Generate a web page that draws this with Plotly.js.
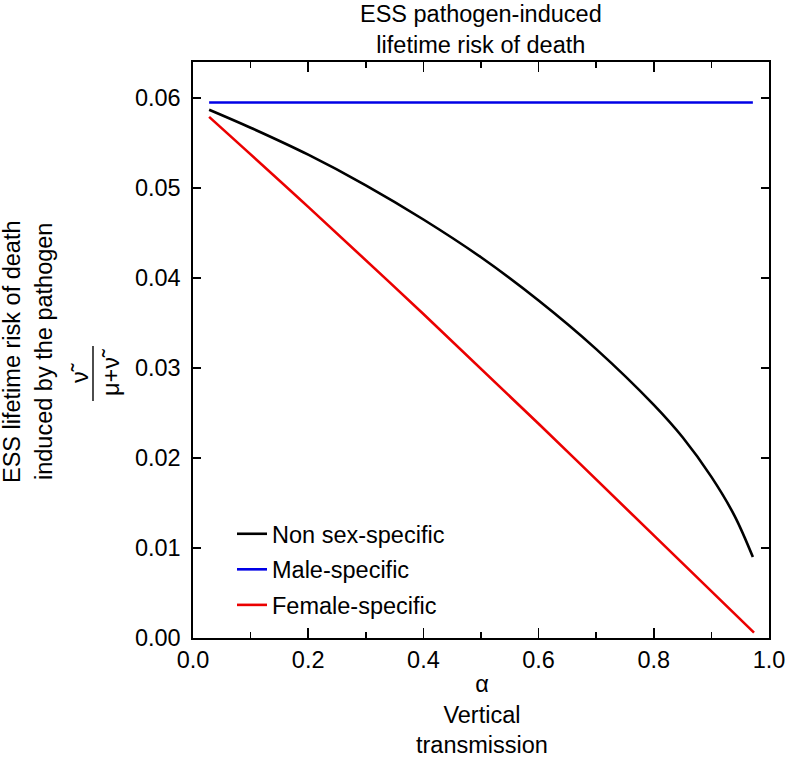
<!DOCTYPE html>
<html>
<head>
<meta charset="utf-8">
<script src="https://cdn.plot.ly/plotly-3.0.1.min.js"></script>
<style>html,body{margin:0;padding:0;background:#fff;}</style>
</head>
<body>
<div id="chart" style="width:788px;height:760px;"></div>
<script>
// Data
const seriesNames = ["Non sex-specific", "Male-specific", "Female-specific"];
const alphaNonSex = [0.028, 0.1, 0.2, 0.3, 0.4, 0.5, 0.6, 0.7, 0.8, 0.85, 0.9, 0.94, 0.972];
const riskNonSex  = [0.0587, 0.0567, 0.0537, 0.0503, 0.0465, 0.0423, 0.0375, 0.0321, 0.0259, 0.0223, 0.0179, 0.0136, 0.0090];
const alphaMale = [0.028, 0.972];
const riskMale  = [0.0595, 0.0595];
const alphaFemale = [0.028, 0.2, 0.4, 0.6, 0.8, 0.974];
const riskFemale  = [0.0579, 0.0479, 0.0360, 0.0238, 0.0114, 0.0006];
const xTickVals = [0, 0.2, 0.4, 0.6, 0.8, 1.0];
const yTickVals = [0, 0.01, 0.02, 0.03, 0.04, 0.05, 0.06];

const FONT = "Liberation Sans, Arial, Helvetica, sans-serif";
const FS = 23.5;
const L = 193, T = 62, W = 576, H = 576;
const px2x = p => (p - L) / W;
const py2y = p => (T + H - p) / H;
const f = () => ({family: FONT, size: FS, color: "#000"});

const traces = [
  {x: alphaNonSex, y: riskNonSex, name: seriesNames[0], legendgroup: "a", mode: "lines",
   line: {color: "#000000", width: 2.6, shape: "spline", smoothing: 1}},
  {x: alphaMale, y: riskMale, name: seriesNames[1], legendgroup: "b", mode: "lines",
   line: {color: "rgb(0,0,230)", width: 2.6}},
  {x: alphaFemale, y: riskFemale, name: seriesNames[2], legendgroup: "c", mode: "lines",
   line: {color: "rgb(235,0,0)", width: 2.6, shape: "spline", smoothing: 1}}
];

const axisCommon = {
  showgrid: false, zeroline: false, showline: true, linecolor: "#000", linewidth: 1.6,
  mirror: "ticks", ticks: "inside", tickcolor: "#000", tickwidth: 1.6,
  tickfont: f()
};

function label(text, xp, yp, angle) {
  return {text: text, xref: "paper", yref: "paper", x: px2x(xp), y: py2y(yp),
          xanchor: "center", yanchor: "middle", textangle: angle || 0, showarrow: false, font: f()};
}

const layout = {
  width: 788, height: 760,
  margin: {l: L, r: 788 - L - W, t: T, b: 760 - T - H},
  paper_bgcolor: "#fff", plot_bgcolor: "#fff",
  font: f(),
  showlegend: true,
  xaxis: Object.assign({}, axisCommon, {
    range: [0, 1], tickvals: xTickVals, tickformat: ".1f", ticklen: 10,
    minor: {dtick: 0.1, ticks: "inside", ticklen: 6, tickcolor: "#000", tickwidth: 1.6, showgrid: false},
    automargin: false
  }),
  yaxis: Object.assign({}, axisCommon, {
    range: [0, 0.064], tickvals: yTickVals, tickformat: ".2f", ticklen: 8,
    ticklabelstandoff: 6, automargin: false
  }),
  legend: {x: px2x(232), xanchor: "left", y: py2y(512), yanchor: "top",
           bgcolor: "rgba(0,0,0,0)", borderwidth: 0, tracegroupgap: 2,
           font: f()},
  annotations: [
    {text: "ESS pathogen-induced<br>lifetime risk of death", xref: "paper", yref: "paper",
     x: 0.5, y: py2y(-1), xanchor: "center", yanchor: "top", showarrow: false, font: f()},
    {text: "α<br>Vertical<br>transmission", xref: "paper", yref: "paper",
     x: px2x(482), y: py2y(760), xanchor: "center", yanchor: "bottom", showarrow: false, font: f()},
    label("ESS lifetime risk of death", 12, 352, -90),
    label("induced by the pathogen", 44, 352, -90),
    label("ν\u0303", 80, 373, -90),
    label("μ+ν\u0303", 111, 373, -90)
  ],
  shapes: [
    {type: "line", xref: "paper", yref: "paper", x0: px2x(93), x1: px2x(93), y0: py2y(346), y1: py2y(401),
     line: {color: "#000", width: 1.4}}
  ]
};

Plotly.newPlot("chart", traces, layout, {displayModeBar: false, staticPlot: true});
</script>
</body>
</html>
